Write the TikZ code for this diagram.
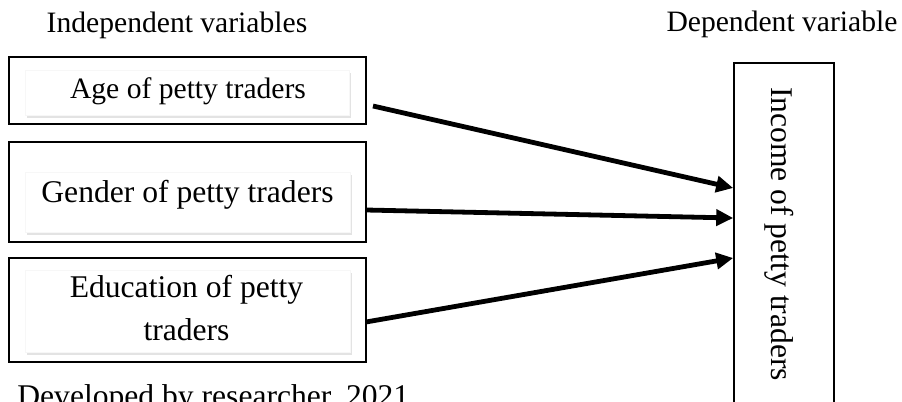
\documentclass[tikz,border=0pt]{standalone}
\usepackage{fontspec}
\setmainfont{Liberation Serif}
\usetikzlibrary{arrows.meta,shadows}
\begin{document}
\begin{tikzpicture}[x=0.5pt,y=-0.5pt,
  outerbox/.style={draw=black,line width=1pt,fill=white,inner sep=0pt},
  innerbox/.style={draw=black!3,line width=0.2pt,fill=white,inner sep=0pt,
    drop shadow={opacity=0.22,shadow xshift=0.8pt,shadow yshift=-1.4pt}},
  lbl/.style={anchor=base,inner sep=0pt,font=\fontsize{15.8}{19}\selectfont},
  lblsm/.style={anchor=base,inner sep=0pt,font=\fontsize{14.8}{18}\selectfont},
  arr/.style={line width=2.4pt,-{Triangle[length=8.5pt,width=8pt]}}]
\useasboundingbox (0,0) rectangle (902,402);
% headings
\node[lblsm] (indep) at (177,32) {Independent variables};
\node[lblsm] (dep) at (782,31) {Dependent variable};
% left boxes
\node[outerbox,minimum width=178.5pt,minimum height=33.5pt] (age) at (187.5,90.5) {};
\node[innerbox,minimum width=162pt,minimum height=22.5pt] (agein) at (187,92.5) {};
\node[lblsm] (agetxt) at (188,98) {Age of petty traders};
\node[outerbox,minimum width=178.5pt,minimum height=50pt] (gen) at (187.5,192) {};
\node[innerbox,minimum width=162.5pt,minimum height=30pt] (genin) at (187.5,202) {};
\node[lbl] (gentxt) at (187.5,202) {Gender of petty traders};
\node[outerbox,minimum width=178.5pt,minimum height=52pt] (edu) at (187.5,310) {};
\node[innerbox,minimum width=162.5pt,minimum height=41pt] (eduin) at (187.5,311) {};
\node[lbl] (edutxt1) at (186.5,297) {Education of petty};
\node[lbl] (edutxt2) at (186.5,340) {traders};
% right box
\node[draw=black,line width=0.8pt,fill=white,minimum width=50pt,minimum height=178.5pt,inner sep=0pt] (inc) at (784,241.5) {};
\node[lbl,rotate=-90] (inctxt) at (771,234) {Income of petty traders};
% source
\node[lbl,anchor=base west] (src) at (17,406) {Developed by researcher, 2021};
% arrows
\coordinate (y1) at (0,188);
\coordinate (y2) at (0,218);
\coordinate (y3) at (0,258);
\coordinate (s1) at (373,106);
\coordinate (s2) at (366,210);
\coordinate (s3) at (366,322);
\draw[arr] (s1) -- (inc.west |- y1);
\draw[arr] (s2) -- (inc.west |- y2);
\draw[arr] (s3) -- (inc.west |- y3);
\end{tikzpicture}
\end{document}
